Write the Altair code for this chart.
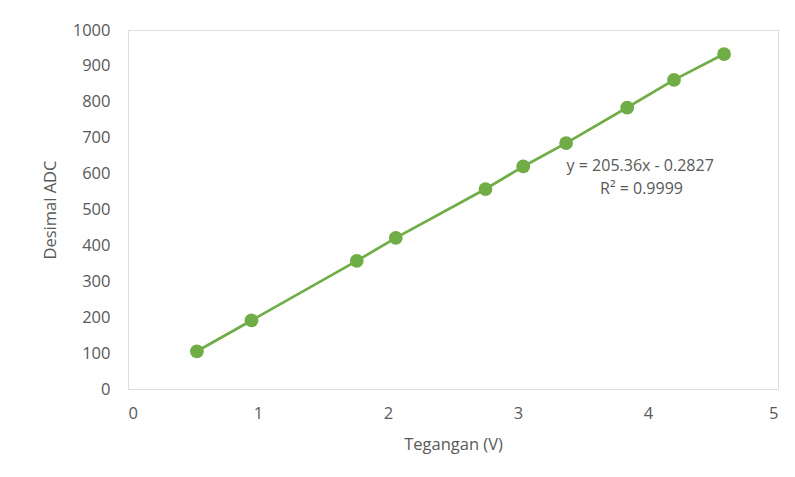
import altair as alt
import pandas as pd

tegangan = [0.53, 0.95, 1.76, 2.06, 2.75, 3.04, 3.37, 3.84, 4.20, 4.585]
desimal_adc = [105, 191, 357, 421, 557, 620, 685, 784, 861, 933]
eq_text = ["y = 205.36x - 0.2827", "R² = 0.9999"]
x_ticks = [0, 1, 2, 3, 4, 5]
y_ticks = [0, 100, 200, 300, 400, 500, 600, 700, 800, 900, 1000]

df = pd.DataFrame({"x": tegangan, "y": desimal_adc})
eq_df = pd.DataFrame({"x": [3.94, 3.95], "y": [620, 556], "t": eq_text})

FONT = "Open Sans"
GREY = "#595959"
GREEN = "#70AD47"
FS = 16.5

x_enc = alt.X(
    "x:Q",
    scale=alt.Scale(domain=[0, 5], nice=False, zero=True),
    axis=alt.Axis(
        title="Tegangan (V)", values=x_ticks, format="d",
        grid=False, domain=False, ticks=False, labelPadding=16,
        titlePadding=15, labelFontSize=FS, titleFontSize=FS,
        labelColor=GREY, titleColor=GREY, labelFont=FONT, titleFont=FONT,
        titleFontWeight="normal", labelOverlap=False,
    ),
)
y_enc = alt.Y(
    "y:Q",
    scale=alt.Scale(domain=[0, 1000], nice=False),
    axis=alt.Axis(
        title="Desimal ADC", values=y_ticks, format="d",
        grid=False, domain=False, ticks=False, labelPadding=18,
        titlePadding=14, labelFontSize=FS, titleFontSize=FS,
        labelColor=GREY, titleColor=GREY, labelFont=FONT, titleFont=FONT,
        titleFontWeight="normal", labelOverlap=False,
    ),
)

base = alt.Chart(df).encode(x=x_enc, y=y_enc)
line = base.mark_line(color=GREEN, strokeWidth=2.75)
pts = base.mark_circle(color=GREEN, opacity=1, size=190)

eq = alt.Chart(eq_df).mark_text(
    font=FONT, fontSize=16, color=GREY, align="center", baseline="middle",
).encode(
    x=x_enc,
    y=y_enc,
    text="t:N",
)

chart = (
    alt.layer(line, pts, eq)
    .properties(
        width=650, height=359,
        autosize=alt.AutoSizeParams(type="none"),
        padding={"left": 120, "top": 22, "right": 5, "bottom": 70},
    )
    .configure_view(strokeWidth=0, stroke="transparent")
    .configure_axis(labelOverlap=False)
    .configure(background="white")
)

chart.save("out.html", embed_options={"renderer": "svg", "actions": False})
